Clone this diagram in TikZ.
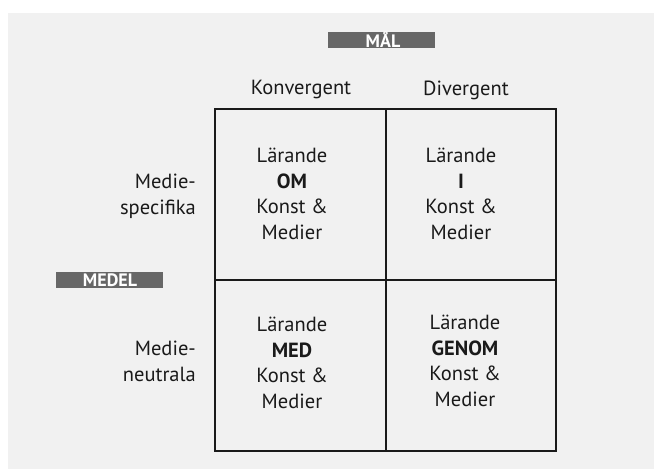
\documentclass[tikz,border=0pt]{standalone}
\usepackage{fontspec}
\setmainfont{PT Sans}
\definecolor{bggray}{HTML}{F1F1F1}
\definecolor{taggray}{HTML}{676767}
\definecolor{ink}{HTML}{1A1A1A}
\begin{document}
\begin{tikzpicture}[x=1pt,y=-1pt,
  cell/.style={draw=ink, line width=2pt, minimum width=170.5pt, minimum height=171pt, inner sep=0pt, anchor=north west},
  celltext/.style={align=center, font=\fontsize{20.5}{25.7}\selectfont, text=ink, inner sep=0pt},
  rowlabel/.style={align=right, font=\fontsize{20.5}{25.7}\selectfont, text=ink, inner sep=0pt, anchor=east},
  collabel/.style={font=\fontsize{20.5}{22}\selectfont, text=ink, inner sep=0pt},
  tag/.style={fill=taggray, minimum width=107pt, minimum height=16pt, inner sep=0pt},
  tagtext/.style={text=white, font=\bfseries\fontsize{18}{18}\selectfont, inner sep=0pt}]
\useasboundingbox (0,0) rectangle (654,469);
\fill[white] (0,0) rectangle (654,469);
\fill[bggray] (8,13) rectangle (654,469);
% tags
\node[tag] (mal) at (381.5,40) {};
\node[tagtext] (maltext) at (383,40) {MÅL};
\node[tag] (medel) at (109,279.5) {};
\node[tagtext] (medeltext) at (110,280) {MEDEL};
% column labels
\node[collabel] (konv) at (301,89) {Konvergent};
\node[collabel] (div) at (466,90) {Divergent};
% cells
\node[cell] (c11) at (214,108) {};
\node[cell] (c12) at (384.5,108) {};
\node[cell] (c21) at (214,279) {};
\node[cell] (c22) at (384.5,279) {};
% cell texts
\node[celltext] (t11) at (292,194) {Lärande\\\textbf{OM}\\Konst \&\\Medier};
\node[celltext] (t12) at (461,194) {Lärande\\\textbf{I}\\Konst \&\\Medier};
\node[celltext] (t21) at (292,363) {Lärande\\\textbf{MED}\\Konst \&\\Medier};
\node[celltext] (t22) at (465,361) {Lärande\\\textbf{GENOM}\\Konst \&\\Medier};
% row labels
\node[rowlabel] (r1) at (196,196) {Medie-\\specifika};
\node[rowlabel] (r2) at (196,361.5) {Medie-\\neutrala};
\end{tikzpicture}
\end{document}
